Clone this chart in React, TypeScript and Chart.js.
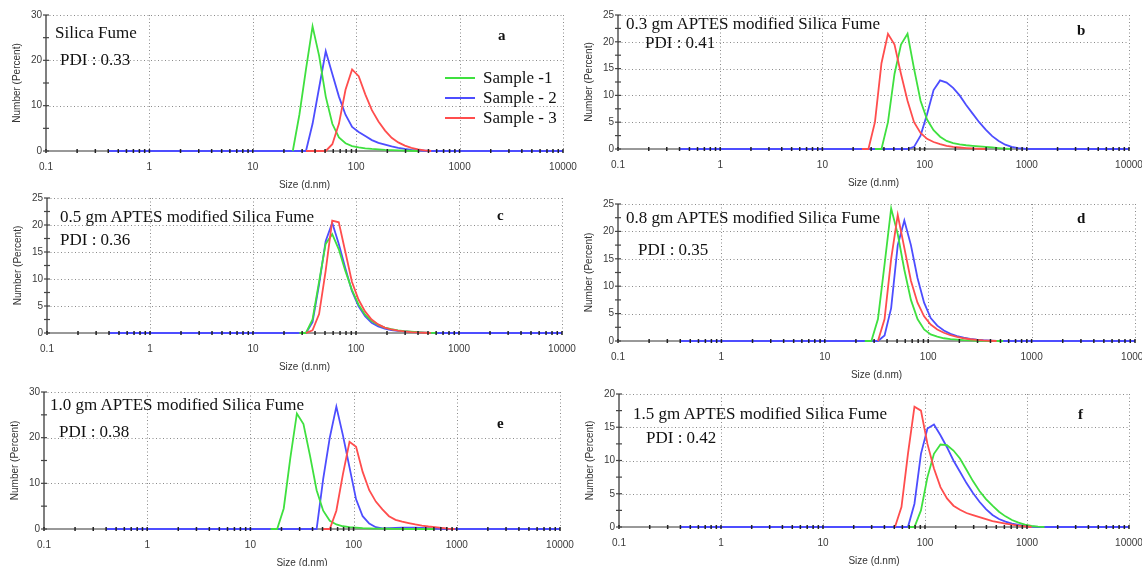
import React, { useEffect, useRef } from "react";
import { Chart, registerables } from "chart.js";

Chart.register(...registerables);
Chart.defaults.font.family = "'Liberation Sans', Arial, sans-serif";

type Pt = [number, number];

const X_TICKS = [0.1, 1, 10, 100, 1000, 10000];
const X_MINOR_MULT = [1, 2, 3, 4, 5, 6, 7, 8, 9];
const SERIES_LABELS = ["Sample -1", "Sample - 2", "Sample - 3"];
const SERIES_COLORS = ["#3fe03f", "#4d4dff", "#ff4d4d"];
const SERIES_ORDER = [2, 3, 1];

// ---- Panel a: Silica Fume ----
const a_s1: Pt[] = [[24.36,0],[28.21,8],[32.67,18],[37.84,27.5],[43.82,21],[50.75,12],[58.77,6],[68.06,3],[78.82,1.7],[91.28,1.1],[105.7,0.8],[122.4,0.6],[141.8,0.45],[164.2,0.35],[190.1,0.25],[220.2,0.2],[255,0.15],[295.3,0.1],[342,0.05],[396.1,0]];
const a_s2: Pt[] = [[0.4,0],[32.67,0],[37.84,6],[43.82,14],[50.75,22],[58.77,17],[68.06,12],[78.82,8],[91.28,5.3],[105.7,4.2],[122.4,3.3],[141.8,2.4],[164.2,1.8],[190.1,1.4],[220.2,1.0],[255,0.7],[295.3,0.45],[342,0.25],[396.1,0.12],[458.7,0.05],[531.2,0],[10000,0]];
const a_s3: Pt[] = [[32.67,0],[50.75,0],[58.77,1.5],[68.06,6],[78.82,13.5],[91.28,18],[105.7,16.5],[122.4,12.5],[141.8,9],[164.2,6.5],[190.1,4.5],[220.2,2.9],[255,1.9],[295.3,1.2],[342,0.7],[396.1,0.35],[458.7,0.15],[531.2,0]];

// ---- Panel b: 0.3 gm ----
const b_s1: Pt[] = [[32.67,0],[37.84,0],[43.82,5],[50.75,14],[58.77,19.5],[68.06,21.5],[78.82,15],[91.28,9],[105.7,5.5],[122.4,3.5],[141.8,2.3],[164.2,1.5],[190.1,1.1],[220.2,0.85],[255,0.7],[295.3,0.6],[342,0.5],[396.1,0.4],[458.7,0.3],[531.2,0.18],[615.1,0.08],[712.4,0]];
const b_s2: Pt[] = [[0.4,0],[68.06,0],[78.82,0.4],[91.28,2.5],[105.7,6.5],[122.4,11],[141.8,12.8],[164.2,12.4],[190.1,11.4],[220.2,10],[255,8.2],[295.3,6.6],[342,5],[396.1,3.6],[458.7,2.4],[531.2,1.5],[615.1,0.8],[712.4,0.4],[825,0.15],[955.4,0.05],[1106,0],[10000,0]];
const b_s3: Pt[] = [[24.36,0],[28.21,0],[32.67,5],[37.84,16],[43.82,21.5],[50.75,19.5],[58.77,14],[68.06,9],[78.82,5],[91.28,3],[105.7,1.9],[122.4,1.3],[141.8,0.9],[164.2,0.6],[190.1,0.4],[220.2,0.28],[255,0.18],[295.3,0.1],[342,0.05],[396.1,0]];

// ---- Panel c: 0.5 gm ----
const c_s1: Pt[] = [[28.21,0],[32.67,0],[37.84,2.5],[43.82,9.5],[50.75,16.5],[58.77,18.3],[68.06,15.5],[78.82,11.5],[91.28,8],[105.7,5.3],[122.4,3.4],[141.8,2.2],[164.2,1.5],[190.1,1.0],[220.2,0.7],[255,0.5],[295.3,0.35],[342,0.25],[396.1,0.15],[458.7,0.08],[531.2,0.03],[615.1,0]];
const c_s2: Pt[] = [[0.4,0],[32.67,0],[37.84,2],[43.82,9],[50.75,17],[58.77,20.4],[68.06,16.5],[78.82,12],[91.28,7.8],[105.7,5],[122.4,3.1],[141.8,1.9],[164.2,1.2],[190.1,0.8],[220.2,0.55],[255,0.4],[295.3,0.3],[342,0.2],[396.1,0.12],[458.7,0.06],[531.2,0.02],[615.1,0],[10000,0]];
const c_s3: Pt[] = [[32.67,0],[37.84,0.5],[43.82,3.5],[50.75,11.5],[58.77,20.8],[68.06,20.5],[78.82,15],[91.28,9.5],[105.7,6.2],[122.4,4],[141.8,2.5],[164.2,1.6],[190.1,1.0],[220.2,0.65],[255,0.45],[295.3,0.3],[342,0.18],[396.1,0.1],[458.7,0.05],[531.2,0]];

// ---- Panel d: 0.8 gm ----
const d_s1: Pt[] = [[24.36,0],[28.21,0],[32.67,4],[37.84,14],[43.82,24.2],[50.75,19.5],[58.77,13],[68.06,7.5],[78.82,4],[91.28,2.1],[105.7,1.2],[122.4,0.8],[141.8,0.5],[164.2,0.35],[190.1,0.25],[220.2,0.15],[255,0.1],[295.3,0.05],[342,0.02],[396.1,0],[531.2,0]];
const d_s2: Pt[] = [[0.4,0],[32.67,0],[37.84,1],[43.82,6],[50.75,17.5],[58.77,22],[68.06,17.5],[78.82,11.5],[91.28,7],[105.7,4.2],[122.4,2.8],[141.8,1.9],[164.2,1.3],[190.1,0.9],[220.2,0.6],[255,0.4],[295.3,0.25],[342,0.15],[396.1,0.08],[458.7,0.03],[531.2,0],[10000,0]];
const d_s3: Pt[] = [[32.67,0],[37.84,4],[43.82,15],[50.75,23],[58.77,17],[68.06,11],[78.82,7],[91.28,4.5],[105.7,3],[122.4,2.1],[141.8,1.5],[164.2,1.05],[190.1,0.75],[220.2,0.5],[255,0.32],[295.3,0.2],[342,0.1],[396.1,0.05],[458.7,0]];

// ---- Panel e: 1.0 gm ----
const e_s1: Pt[] = [[15.69,0],[18.17,0],[21.04,4.5],[24.36,15.5],[28.21,25.3],[32.67,23],[37.84,16],[43.82,8.5],[50.75,4],[58.77,1.8],[68.06,1.0],[78.82,0.6],[91.28,0.4],[105.7,0.3],[122.4,0.2],[141.8,0.15],[164.2,0.1],[190.1,0.08],[220.2,0.05],[255,0.03],[295.3,0.02],[342,0],[615.1,0]];
const e_s2: Pt[] = [[0.4,0],[43.82,0],[50.75,11],[58.77,20],[68.06,26.8],[78.82,20.5],[91.28,13.5],[105.7,6.5],[122.4,2.8],[141.8,1.2],[164.2,0.4],[190.1,0.15],[220.2,0.2],[255,0.25],[295.3,0.3],[342,0.3],[396.1,0.3],[458.7,0.25],[531.2,0.2],[615.1,0.1],[712.4,0.05],[825,0],[10000,0]];
const e_s3: Pt[] = [[50.75,0],[58.77,0],[68.06,4],[78.82,12],[91.28,19.1],[105.7,18],[122.4,12.5],[141.8,8.5],[164.2,6],[190.1,4.3],[220.2,2.8],[255,2],[295.3,1.6],[342,1.3],[396.1,1.0],[458.7,0.75],[531.2,0.55],[615.1,0.4],[712.4,0.25],[825,0.1],[955.4,0]];

// ---- Panel f: 1.5 gm ----
const f_s1: Pt[] = [[68.06,0],[78.82,0],[91.28,2.5],[105.7,7.5],[122.4,11],[141.8,12.4],[164.2,12.3],[190.1,11.5],[220.2,10.3],[255,8.6],[295.3,6.9],[342,5.4],[396.1,4.2],[458.7,3.2],[531.2,2.3],[615.1,1.6],[712.4,1.05],[825,0.65],[955.4,0.35],[1106,0.15],[1281,0.05],[1484,0]];
const f_s2: Pt[] = [[0.4,0],[68.06,0],[78.82,3.5],[91.28,11],[105.7,14.8],[122.4,15.4],[141.8,13.8],[164.2,12],[190.1,10],[220.2,8.3],[255,6.6],[295.3,5.1],[342,3.8],[396.1,2.7],[458.7,1.8],[531.2,1.2],[615.1,0.8],[712.4,0.5],[825,0.3],[955.4,0.15],[1106,0.07],[1281,0],[10000,0]];
const f_s3: Pt[] = [[50.75,0],[58.77,3],[68.06,11],[78.82,18.1],[91.28,17.5],[105.7,12.5],[122.4,8.8],[141.8,6],[164.2,4.3],[190.1,3.2],[220.2,2.6],[255,2.1],[295.3,1.8],[342,1.5],[396.1,1.2],[458.7,0.9],[531.2,0.7],[615.1,0.5],[712.4,0.35],[825,0.2],[955.4,0.1],[1106,0]];

type Txt = { text: string; x: number; y: number };
type PanelCfg = {
  L: number; R: number; T: number; B: number;
  ymax: number; ystep: number;
  series: Pt[][];
  title: Txt; pdi: Txt; letter: Txt;
  legend?: boolean;
};

const PANELS: PanelCfg[] = [
  { L: 46, R: 563, T: 15, B: 151, ymax: 30, ystep: 10, series: [a_s1, a_s2, a_s3],
    title: { text: "Silica Fume", x: 55, y: 34 }, pdi: { text: "PDI : 0.33", x: 60, y: 61 },
    letter: { text: "a", x: 502, y: 36 }, legend: true },
  { L: 618, R: 1129, T: 15, B: 149, ymax: 25, ystep: 5, series: [b_s1, b_s2, b_s3],
    title: { text: "0.3 gm APTES modified Silica Fume", x: 626, y: 25 }, pdi: { text: "PDI : 0.41", x: 645, y: 44 },
    letter: { text: "b", x: 1081, y: 31 } },
  { L: 47, R: 562, T: 198, B: 333, ymax: 25, ystep: 5, series: [c_s1, c_s2, c_s3],
    title: { text: "0.5 gm APTES modified Silica Fume", x: 60, y: 218 }, pdi: { text: "PDI : 0.36", x: 60, y: 241 },
    letter: { text: "c", x: 501, y: 216 } },
  { L: 618, R: 1135, T: 204, B: 341, ymax: 25, ystep: 5, series: [d_s1, d_s2, d_s3],
    title: { text: "0.8 gm APTES modified Silica Fume", x: 626, y: 219 }, pdi: { text: "PDI : 0.35", x: 638, y: 251 },
    letter: { text: "d", x: 1081, y: 219 } },
  { L: 44, R: 560, T: 392, B: 529, ymax: 30, ystep: 10, series: [e_s1, e_s2, e_s3],
    title: { text: "1.0 gm APTES modified Silica Fume", x: 50, y: 406 }, pdi: { text: "PDI : 0.38", x: 59, y: 433 },
    letter: { text: "e", x: 501, y: 424 } },
  { L: 619, R: 1129, T: 394, B: 527, ymax: 20, ystep: 5, series: [f_s1, f_s2, f_s3],
    title: { text: "1.5 gm APTES modified Silica Fume", x: 633, y: 415 }, pdi: { text: "PDI : 0.42", x: 646, y: 439 },
    letter: { text: "f", x: 1082, y: 415 } },
];

const PAD_L = 50, PAD_T = 12, PAD_R = 24, PAD_B = 48;

const gridPlugin = {
  id: "dlsGrid",
  beforeDatasetsDraw(chart: any) {
    const { ctx, chartArea: a, scales } = chart;
    const x = scales.x, y = scales.y;
    const step = chart.options.scales.y.ticks.stepSize;
    ctx.save();
    ctx.strokeStyle = "#8a8a8a";
    ctx.lineWidth = 1;
    ctx.setLineDash([1, 2.5]);
    X_TICKS.slice(1).forEach((v) => {
      const px = Math.round(x.getPixelForValue(v)) + 0.5;
      ctx.beginPath(); ctx.moveTo(px, a.top); ctx.lineTo(px, a.bottom); ctx.stroke();
    });
    for (let v = step; v <= y.max + 1e-9; v += step) {
      const py = Math.round(y.getPixelForValue(v)) + 0.5;
      ctx.beginPath(); ctx.moveTo(a.left, py); ctx.lineTo(a.right, py); ctx.stroke();
    }
    ctx.setLineDash([]);
    ctx.strokeStyle = "#555";
    ctx.lineWidth = 1.5;
    ctx.beginPath(); ctx.moveTo(a.left, a.top); ctx.lineTo(a.left, a.bottom); ctx.stroke();
    ctx.strokeStyle = "#333";
    ctx.lineWidth = 1;
    ctx.beginPath(); ctx.moveTo(a.left, a.bottom); ctx.lineTo(a.right, a.bottom); ctx.stroke();
    ctx.restore();
  },
  afterDatasetsDraw(chart: any) {
    const { ctx, chartArea: a, scales } = chart;
    const x = scales.x, y = scales.y;
    const step = chart.options.scales.y.ticks.stepSize;
    ctx.save();
    ctx.strokeStyle = "#222";
    ctx.lineWidth = 1.5;
    X_TICKS.forEach((dec, di) => {
      const mults = di === X_TICKS.length - 1 ? [1] : X_MINOR_MULT;
      mults.forEach((m) => {
        const px = x.getPixelForValue(dec * m);
        ctx.beginPath(); ctx.moveTo(px, a.bottom - 2); ctx.lineTo(px, a.bottom + 2); ctx.stroke();
      });
    });
    ctx.strokeStyle = "#444";
    ctx.lineWidth = 1.2;
    for (let v = 0; v <= y.max + 1e-9; v += step / 2) {
      const py = y.getPixelForValue(v);
      ctx.beginPath(); ctx.moveTo(a.left - 3, py); ctx.lineTo(a.left + 3, py); ctx.stroke();
    }
    ctx.restore();
  },
};

const legendPlugin = {
  id: "dlsLegend",
  afterDraw(chart: any, _args: any, opts: any) {
    if (!opts || !opts.show) return;
    const { ctx, chartArea: a } = chart;
    const x0 = a.left + 399, y0 = a.top + 63;
    ctx.save();
    chart.data.datasets.forEach((ds: any, i: number) => {
      const yy = y0 + i * 20;
      ctx.strokeStyle = ds.borderColor;
      ctx.lineWidth = 2;
      ctx.beginPath(); ctx.moveTo(x0, yy); ctx.lineTo(x0 + 30, yy); ctx.stroke();
      ctx.fillStyle = "#111";
      ctx.font = "17px 'Liberation Serif', 'Times New Roman', serif";
      ctx.textBaseline = "middle";
      ctx.textAlign = "left";
      ctx.fillText(ds.label, x0 + 38, yy + 1);
    });
    ctx.restore();
  },
};

function Panel({ p }: { p: PanelCfg }) {
  const ref = useRef<HTMLCanvasElement>(null);
  const w = p.R - p.L + PAD_L + PAD_R;
  const h = p.B - p.T + PAD_T + PAD_B;
  useEffect(() => {
    const chart = new Chart(ref.current as HTMLCanvasElement, {
      type: "line",
      data: {
        datasets: p.series.map((s, i) => ({
          label: SERIES_LABELS[i],
          data: s.map(([x, y]) => ({ x, y })),
          borderColor: SERIES_COLORS[i],
          backgroundColor: SERIES_COLORS[i],
          borderWidth: 1.8,
          pointRadius: 0,
          tension: 0,
          fill: false,
          clip: 8,
          order: SERIES_ORDER[i],
        })),
      },
      options: {
        responsive: false,
        animation: false,
        layout: { padding: { left: 0, top: PAD_T, right: PAD_R, bottom: 0 } },
        plugins: {
          legend: { display: false },
          tooltip: { enabled: false },
          dlsLegend: { show: !!p.legend },
        } as any,
        scales: {
          x: {
            type: "logarithmic",
            min: 0.1,
            max: 10000,
            afterBuildTicks: (s: any) => { s.ticks = X_TICKS.map((v) => ({ value: v })); },
            afterFit: (s: any) => { s.height = PAD_B; },
            grid: { display: false, drawTicks: false },
            border: { display: false },
            ticks: {
              autoSkip: false, maxRotation: 0, minRotation: 0, padding: 10,
              color: "#3a3a3a", font: { size: 10 },
              callback: (v: any) => String(v),
            },
            title: { display: true, text: "Size (d.nm)", color: "#333", font: { size: 10 }, padding: { top: 0, bottom: 8 } },
          },
          y: {
            type: "linear",
            min: 0,
            max: p.ymax,
            afterFit: (s: any) => { s.width = PAD_L; },
            grid: { display: false, drawTicks: false },
            border: { display: false },
            ticks: { stepSize: p.ystep, padding: 4, color: "#3a3a3a", font: { size: 10 } },
            title: { display: true, text: "Number (Percent)", color: "#333", font: { size: 10 }, padding: { top: 15, bottom: 0 } },
          },
        },
      } as any,
      plugins: [gridPlugin, legendPlugin],
    });
    return () => chart.destroy();
  }, []);
  return (
    <canvas
      ref={ref}
      width={w}
      height={h}
      style={{ position: "absolute", left: p.L - PAD_L, top: p.T - PAD_T, width: w, height: h }}
    />
  );
}

const serif = "'Liberation Serif', 'Times New Roman', serif";

function Label({ t, bold, size }: { t: Txt; bold?: boolean; size: number }) {
  return (
    <div
      style={{
        position: "absolute",
        left: bold ? t.x - 4 : t.x,
        top: t.y - 11,
        fontFamily: serif,
        fontSize: size,
        lineHeight: "20px",
        fontWeight: bold ? 700 : 400,
        color: "#111",
        whiteSpace: "nowrap",
      }}
    >
      {t.text}
    </div>
  );
}

export default function App() {
  return (
    <div style={{ position: "absolute", left: 0, top: 0, width: 1142, height: 566, background: "#fff", overflow: "hidden" }}>
      {PANELS.map((p, i) => (
        <React.Fragment key={i}>
          <Panel p={p} />
          <Label t={p.title} size={17} />
          <Label t={p.pdi} size={17} />
          <Label t={p.letter} size={15} bold />
        </React.Fragment>
      ))}
    </div>
  );
}
